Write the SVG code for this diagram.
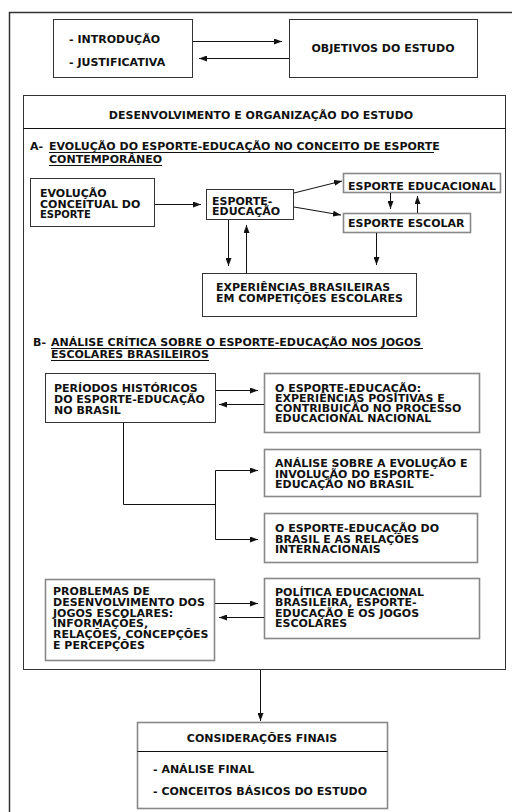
<svg xmlns="http://www.w3.org/2000/svg" width="512" height="812" viewBox="0 0 512 812">
<defs>
<style>
text{font-family:"DejaVu Sans","Verdana",sans-serif;font-weight:bold;font-size:11px;fill:#111}
.bk{fill:#fff;stroke:#333;stroke-width:1}
.gr{fill:#fff;stroke:#888;stroke-width:1.6}
.ln{fill:none;stroke:#111;stroke-width:1}
.ul{stroke:#111;stroke-width:1}
.c{text-anchor:middle}
</style>
<marker id="ah" viewBox="0 0 8 6" refX="8" refY="3" markerWidth="8" markerHeight="6" markerUnits="userSpaceOnUse" orient="auto">
<path d="M0,0 L8,3 L0,6 Z" fill="#111"/>
</marker>
</defs>
<rect width="512" height="812" fill="#fff"/>
<rect id="frame" x="9.5" y="12.5" width="520" height="820" fill="none" stroke="#333" stroke-width="1.5"/>

<g id="intro">
<rect class="bk" x="53.5" y="19.5" width="139" height="58"/>
<text x="69" y="43">- INTRODUÇÃO</text>
<text x="69" y="66">- JUSTIFICATIVA</text>
</g>
<g id="objetivos">
<rect class="bk" x="289.5" y="19.5" width="188" height="58" stroke="#666"/>
<text class="c" x="383" y="52">OBJETIVOS DO ESTUDO</text>
</g>

<g id="desenvolvimento">
<rect class="bk" x="23.5" y="95.5" width="482" height="574" stroke="#111"/>
<line class="ul" x1="23.5" y1="128.5" x2="505.5" y2="128.5"/>
<text class="c" x="261" y="119">DESENVOLVIMENTO E ORGANIZAÇÃO DO ESTUDO</text>
</g>

<g id="secA">
<text x="30" y="150">A-</text>
<text x="49" y="150">EVOLUÇÃO DO ESPORTE-EDUCAÇÃO NO CONCEITO DE ESPORTE<tspan x="49" y="163">CONTEMPORÂNEO</tspan></text>
<line class="ul" x1="49" y1="152.5" x2="434" y2="152.5"/>
<line class="ul" x1="49" y1="165.5" x2="162" y2="165.5"/>
</g>

<g id="evolucao">
<rect class="bk" x="30.5" y="178.5" width="124" height="48"/>
<text x="40" y="197">EVOLUÇÃO<tspan x="40" y="208">CONCEITUAL DO</tspan><tspan x="40" y="218" style="font-size:10px">ESPORTE</tspan></text>
</g>
<g id="esporte-educacao">
<rect class="bk" x="206.5" y="189.5" width="87" height="30" stroke="#666"/>
<text x="212" y="205">ESPORTE-<tspan x="212" y="215">EDUCAÇÃO</tspan></text>
</g>
<g id="esporte-educacional">
<rect class="gr" x="343.5" y="173.5" width="157" height="19"/>
<text x="348" y="190">ESPORTE EDUCACIONAL</text>
</g>
<g id="esporte-escolar">
<rect class="gr" x="343.5" y="213.5" width="127" height="19"/>
<text x="348" y="227">ESPORTE ESCOLAR</text>
</g>
<g id="experiencias">
<rect class="bk" x="202.5" y="273.5" width="214" height="43"/>
<text x="216" y="291">EXPERIÊNCIAS BRASILEIRAS<tspan x="216" y="302">EM COMPETIÇÕES ESCOLARES</tspan></text>
</g>

<g id="secB">
<text x="33" y="346">B-</text>
<text x="51" y="346">ANÁLISE CRÍTICA SOBRE O ESPORTE-EDUCAÇÃO NOS JOGOS<tspan x="51" y="358">ESCOLARES BRASILEIROS</tspan></text>
<line class="ul" x1="51" y1="348.5" x2="423" y2="348.5"/>
<line class="ul" x1="51" y1="360.5" x2="209" y2="360.5"/>
</g>

<g id="periodos">
<rect class="bk" x="45.5" y="373.5" width="170" height="49"/>
<text x="54" y="392">PERÍODOS HISTÓRICOS<tspan x="54" y="403">DO ESPORTE-EDUCAÇÃO</tspan><tspan x="54" y="413.5">NO BRASIL</tspan></text>
</g>
<g id="experiencias-positivas">
<rect class="gr" x="264.5" y="373.5" width="215" height="59"/>
<text x="275" y="392">O ESPORTE-EDUCAÇÃO:<tspan x="275" y="402">EXPERIÊNCIAS POSITIVAS E</tspan><tspan x="275" y="412">CONTRIBUIÇÃO NO PROCESSO</tspan><tspan x="275" y="421.5">EDUCACIONAL NACIONAL</tspan></text>
</g>
<g id="analise">
<rect class="gr" x="264.5" y="449.5" width="216" height="47"/>
<text x="275" y="467">ANÁLISE SOBRE A EVOLUÇÃO E<tspan x="275" y="478">INVOLUÇÃO DO ESPORTE-</tspan><tspan x="275" y="488">EDUCAÇÃO NO BRASIL</tspan></text>
</g>
<g id="relacoes">
<rect class="gr" x="264.5" y="513.5" width="213" height="49"/>
<text x="275" y="532">O ESPORTE-EDUCAÇÃO DO<tspan x="275" y="542.5">BRASIL E AS RELAÇÕES</tspan><tspan x="275" y="552.5">INTERNACIONAIS</tspan></text>
</g>
<g id="problemas">
<rect class="gr" x="45.5" y="579.5" width="169" height="81"/>
<text x="53" y="595">PROBLEMAS DE<tspan x="53" y="606">DESENVOLVIMENTO DOS</tspan><tspan x="53" y="617">JOGOS ESCOLARES:</tspan><tspan x="53" y="627">INFORMAÇÕES,</tspan><tspan x="53" y="638">RELAÇÕES, CONCEPÇÕES</tspan><tspan x="53" y="649">E PERCEPÇÕES</tspan></text>
</g>
<g id="politica">
<rect class="gr" x="264.5" y="578.5" width="215" height="60"/>
<text x="275" y="596">POLÍTICA EDUCACIONAL<tspan x="275" y="606">BRASILEIRA, ESPORTE-</tspan><tspan x="275" y="617">EDUCAÇÃO E OS JOGOS</tspan><tspan x="275" y="627">ESCOLARES</tspan></text>
</g>

<g id="consideracoes">
<rect class="gr" x="137.5" y="722.5" width="250" height="86"/>
<line class="ul" x1="137.5" y1="751.5" x2="387.5" y2="751.5"/>
<text class="c" x="262" y="742">CONSIDERAÇÕES FINAIS</text>
<text x="153" y="773">- ANÁLISE FINAL</text>
<text x="153" y="795">- CONCEITOS BÁSICOS DO ESTUDO</text>
</g>

<g id="connectors" class="ln">
<line class="ln" x1="193" y1="41.5" x2="282" y2="41.5" marker-end="url(#ah)"/>
<line class="ln" x1="289" y1="58.5" x2="199" y2="58.5" marker-end="url(#ah)"/>
<line class="ln" x1="155" y1="204.5" x2="201" y2="204.5" marker-end="url(#ah)"/>
<line class="ln" x1="294" y1="193" x2="342" y2="181" marker-end="url(#ah)"/>
<line class="ln" x1="294" y1="207" x2="341" y2="215" marker-end="url(#ah)"/>
<line class="ln" x1="390.5" y1="193" x2="390.5" y2="209" marker-end="url(#ah)"/>
<line class="ln" x1="417.5" y1="213" x2="417.5" y2="196" marker-end="url(#ah)"/>
<line class="ln" x1="228.5" y1="220" x2="228.5" y2="266" marker-end="url(#ah)"/>
<line class="ln" x1="246.5" y1="273" x2="246.5" y2="225" marker-end="url(#ah)"/>
<line class="ln" x1="376.5" y1="233" x2="376.5" y2="265" marker-end="url(#ah)"/>
<line class="ln" x1="216" y1="390.5" x2="258" y2="390.5" marker-end="url(#ah)"/>
<line class="ln" x1="264" y1="404.5" x2="219" y2="404.5" marker-end="url(#ah)"/>
<path class="ln" d="M123.5,423 V504.5 H215.5"/>
<path class="ln" d="M258,470.5 H215.5 V539.5 H258"/>
<line class="ln" x1="250" y1="470.5" x2="258" y2="470.5" marker-end="url(#ah)"/>
<line class="ln" x1="250" y1="539.5" x2="258" y2="539.5" marker-end="url(#ah)"/>
<line class="ln" x1="215" y1="603.5" x2="258" y2="603.5" marker-end="url(#ah)"/>
<line class="ln" x1="264" y1="617.5" x2="219" y2="617.5" marker-end="url(#ah)"/>
<line class="ln" x1="260.5" y1="670" x2="260.5" y2="721" marker-end="url(#ah)"/>
</g>
</svg>
